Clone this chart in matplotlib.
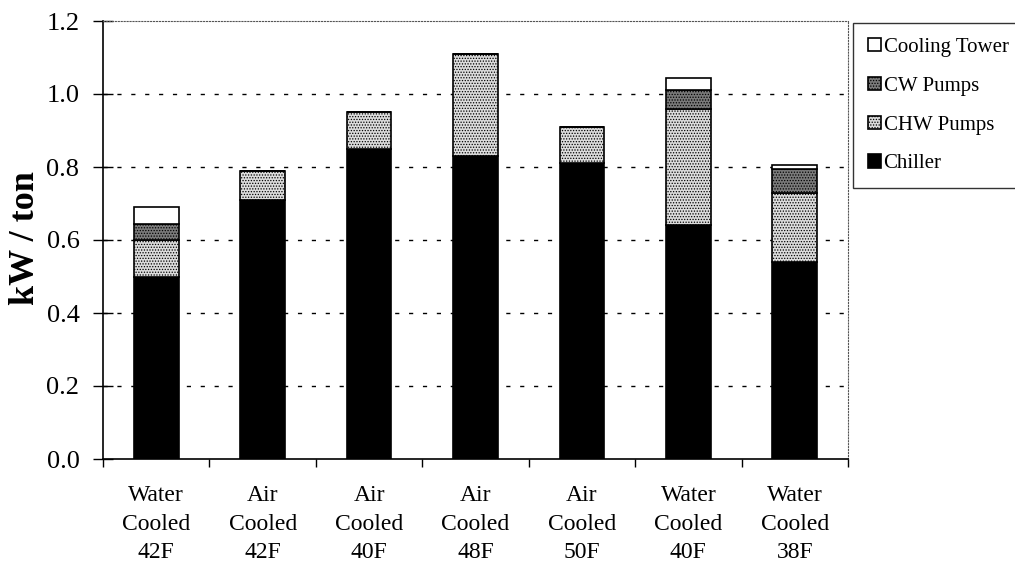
import matplotlib
matplotlib.use("Agg")
import matplotlib.pyplot as plt
import numpy as np

categories = ["Water\nCooled\n42F", "Air\nCooled\n42F", "Air\nCooled\n40F", "Air\nCooled\n48F",
              "Air\nCooled\n50F", "Water\nCooled\n40F", "Water\nCooled\n38F"]
chiller = [0.50, 0.71, 0.85, 0.83, 0.81, 0.64, 0.54]
chw_pumps = [0.10, 0.08, 0.10, 0.28, 0.10, 0.32, 0.19]
cw_pumps = [0.045, 0.0, 0.0, 0.0, 0.0, 0.05, 0.065]
cooling_tower = [0.045, 0.0, 0.0, 0.0, 0.0, 0.035, 0.01]
yticks = [0.0, 0.2, 0.4, 0.6, 0.8, 1.0, 1.2]

plt.rcParams['font.family'] = ['Liberation Serif', 'DejaVu Serif']
plt.rcParams['hatch.linewidth'] = 0.6

fig = plt.figure(figsize=(10.15, 5.66), dpi=100)
ax = fig.add_axes([103/1015, 1 - 459/566, (848-103)/1015, (459-21)/566])

x = np.arange(len(categories))
w = 0.42
series = [
    ("Chiller", chiller, dict(facecolor="black", edgecolor="black")),
    ("CHW Pumps", chw_pumps, dict(facecolor="#dcdcdc", edgecolor="black", hatch="......")),
    ("CW Pumps", cw_pumps, dict(facecolor="#7a7a7a", edgecolor="black", hatch="......")),
    ("Cooling Tower", cooling_tower, dict(facecolor="white", edgecolor="black")),
]
bottom = np.zeros(len(categories))
handles = []
for name, vals, style in series:
    vals = np.array(vals)
    b = ax.bar(x, vals, w, bottom=bottom, label=name, linewidth=1.2, **style)
    handles.append(b)
    bottom = bottom + vals

ax.set_xlim(-0.5, len(categories) - 0.5)
ax.set_ylim(0, 1.2)
ax.set_yticks(yticks)
ax.set_yticklabels([f"{v:.1f}" for v in yticks], fontsize=19)
ax.set_xticks(x)
ax.set_xticklabels(categories, fontsize=17, linespacing=1.45)
ax.tick_params(axis='x', which='major', length=0, pad=19)
ax.set_xticks(np.arange(-0.5, len(categories), 1.0), minor=True)
ax.tick_params(axis='x', which='minor', length=6, direction='out', width=1)
ax.tick_params(axis='y', direction='inout', length=14, width=1, pad=10)

for v in yticks[1:-1]:
    ax.axhline(v, color='black', linestyle=(0, (3, 7)), linewidth=1.0, zorder=0)

ax.spines['left'].set_linewidth(1.2)
ax.spines['bottom'].set_linewidth(1.2)
ax.spines['top'].set_linestyle(':')
ax.spines['top'].set_color('#555555')
ax.spines['right'].set_linestyle(':')
ax.spines['right'].set_color('#555555')

ax.set_ylabel("kW / ton", fontsize=26, fontweight='bold')
ax.yaxis.set_label_coords(-0.082, 0.505)

leg = fig.legend(handles=handles[::-1], labels=[s[0] for s in series][::-1],
                 loc='upper left', bbox_to_anchor=(853/1015, 1 - 23/566),
                 fontsize=15, frameon=True, fancybox=False, edgecolor='black',
                 handlelength=0.6, handleheight=0.6, handletextpad=0.15,
                 labelspacing=0.95, borderpad=0.72, borderaxespad=0)
leg.get_frame().set_linewidth(1.0)

fig.savefig("out.png", dpi=100)
